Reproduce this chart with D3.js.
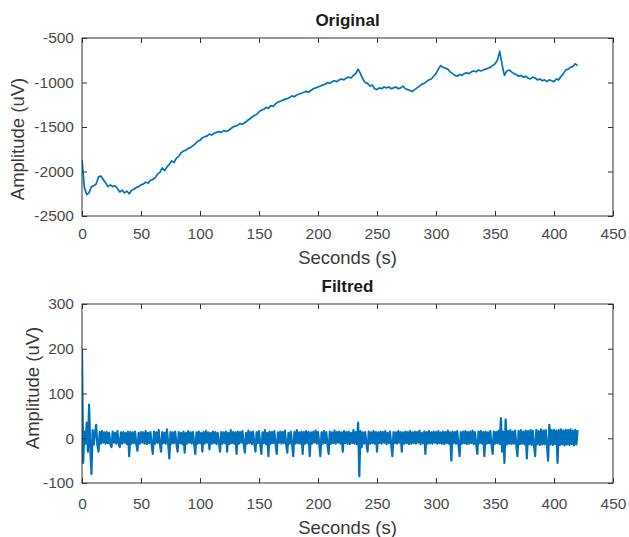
<!DOCTYPE html>
<html lang="en">
<head>
<meta charset="utf-8">
<title>Original / Filtred</title>
<script src="https://cdn.jsdelivr.net/npm/d3@7"></script>
<style>
  body, html { margin: 0; padding: 0; background: #fff; }
  .tick text { font-family: 'Liberation Sans', Arial, sans-serif; font-size: 15.5px; fill: #4a4a4a; }
  .label { font-family: 'Liberation Sans', Arial, sans-serif; font-size: 18.5px; fill: #3a3a3a; text-anchor: middle; }
  .title { font-family: 'Liberation Sans', Arial, sans-serif; font-size: 17px; font-weight: bold; fill: #1a1a1a; text-anchor: middle; }
</style>
</head>
<body>
<script>
// sample spacing of the hand-read series, seconds
var origStep = 2;
var filtStep = 1;

var xTicks = [0, 50, 100, 150, 200, 250, 300, 350, 400, 450];
var origTicks = [-500, -1000, -1500, -2000, -2500];
var filtTicks = [300, 200, 100, 0, -100];

// raw signal, one value every 2 s (0..420 s)
var original = [
  -1870, -2180, -2260, -2240, -2170, -2160, -2140, -2060, -2050, -2090,
  -2130, -2170, -2150, -2170, -2160, -2190, -2230, -2210, -2240, -2220,
  -2250, -2210, -2200, -2180, -2170, -2150, -2140, -2120, -2130, -2100,
  -2090, -2070, -2030, -2010, -1960, -1990, -1950, -1920, -1880, -1900,
  -1850, -1830, -1790, -1770, -1760, -1740, -1730, -1710, -1690, -1660,
  -1650, -1620, -1610, -1600, -1580, -1590, -1570, -1560, -1550, -1560,
  -1540, -1550, -1540, -1520, -1500, -1490, -1480, -1460, -1470, -1450,
  -1430, -1410, -1390, -1370, -1360, -1330, -1310, -1300, -1280, -1290,
  -1260, -1270, -1240, -1220, -1210, -1200, -1190, -1180, -1170, -1150,
  -1160, -1140, -1130, -1120, -1110, -1100, -1110, -1090, -1070, -1060,
  -1050, -1040, -1030, -1020, -1000, -1010, -990, -980, -990, -970,
  -960, -970, -950, -940, -950, -920, -900, -850, -900, -960,
  -1000, -1010, -1040, -1030, -1070, -1080, -1060, -1070, -1050, -1060,
  -1050, -1070, -1060, -1050, -1070, -1060, -1040, -1070, -1080, -1090,
  -1100, -1080, -1060, -1040, -1020, -1010, -990, -970, -960, -930,
  -900, -850, -810, -830, -840, -850, -880, -900, -920, -930,
  -910, -920, -900, -890, -900, -880, -870, -880, -860, -870,
  -860, -850, -840, -830, -810, -790, -750, -650, -800, -920,
  -870, -860, -880, -900, -910, -930, -920, -940, -930, -950,
  -960, -940, -950, -970, -960, -980, -970, -990, -970, -980,
  -990, -960, -970, -930, -900, -860, -850, -830, -820, -790,
  -810
];

// filtered signal, one value every 1 s (0..420 s)
var filtered = [
  200, -55, 15, -12, 35, -30, 75, -20, -80, 18, -14, 12, 30, -15, -30, 14, -12, 16, -10, 13,
  -12, 14, -11, 12, -13, -20, 15, -10, 12, -12, 16, -11, -20, 13, -12, 14, -10, 12, -13, 15,
  -40, 14, -12, 13, -11, 15, -13, -28, 12, -12, 14, -10, 13, -12, 16, -13, 12, -11, 14, -12,
  -35, 15, -12, 13, -10, 18, -13, -30, 14, -11, 12, -12, 20, -10, -45, 14, -12, 13, -11, 15,
  -12, -30, 14, -11, 12, -13, 15, -32, 12, -12, 16, -10, 13, -12, 14, -11, -35, 13, -12, 15,
  -11, 12, -30, 14, -12, 16, -10, 13, -25, 12, -12, 15, -11, 14, -13, 12, -10, -30, 14, -12,
  13, -11, 15, -30, 12, -13, 18, -11, 14, -12, 13, -35, 15, -12, 14, -10, 16, -13, -32, 12,
  -12, 17, -11, 14, -13, 15, -12, -30, 14, -11, 16, -12, -35, 13, -11, 18, -13, 12, -40, 15,
  -12, 14, -11, 16, -12, -35, 13, -10, 15, -12, 14, -11, 17, -13, -32, 12, -12, 15, -11, -40,
  14, -12, 18, -11, 13, -12, 15, -35, 14, -12, 16, -11, 14, -40, 13, -12, 15, -10, 17, -12,
  14, -11, -40, 13, -12, 16, -11, 14, -13, -35, 15, -12, 13, -11, 17, -12, 14, -10, 15, -12,
  13, -30, 16, -11, 14, -12, 15, -13, 12, -11, 18, -12, 14, -13, 35, -85, 16, -20, 13, -12,
  14, -11, -30, 15, -12, 13, -11, 16, -12, 14, -30, 13, -11, 15, -12, 14, -10, 16, -13, 12,
  -11, 15, -12, -40, 14, -11, 13, -12, 16, -10, 14, -30, 13, -12, 15, -11, 14, -13, 16, -12,
  13, -11, 15, -12, 14, -10, 17, -13, 12, -11, 15, -35, 14, -12, 16, -11, 13, -12, 15, -10,
  14, -12, 16, -11, 13, -12, 15, -13, 14, -11, 17, -12, 13, -50, 15, -11, 14, -12, 16, -13,
  -40, 14, -12, 15, -11, 16, -13, 14, -12, 15, -11, 17, -13, 14, -12, -35, 15, -11, 16, -12,
  14, -40, 15, -12, 13, -11, 16, -13, -35, 15, -12, 14, -11, 17, -13, 45, -30, 15, -55, 42,
  -14, 16, -12, 18, -13, 15, -12, 17, -14, -40, 16, -13, 18, -12, 15, -14, 17, -45, 16, -13,
  18, -15, 17, -14, -40, 19, -13, 16, -15, 20, -14, 17, -13, 18, -15, -50, 30, -14, 18, -15,
  19, -13, 17, -55, 18, -15, 20, -14, 17, -16, 19, -14, 18, -15, 20, -13, 17, -16, 19, -14, 18
];

var w = 629;
var h = 537;
var left = 82, right = 613;
var tickLen = 5;
var blue = "#0072BD";
var fmt = function(d) { return String(d); };

var svg = d3.select("body").append("svg")
  .attr("width", w)
  .attr("height", h);

var x = d3.scaleLinear().domain([0, 450]).range([left, right]);

function panel(opts) {
  var y = d3.scaleLinear().domain(opts.domain).range([opts.bottom, opts.top]);
  var g = svg.append("g");

  // clip so spikes stay in the box
  var clipId = "clip" + opts.top;
  svg.append("clipPath").attr("id", clipId)
    .append("rect")
    .attr("x", left).attr("y", opts.top)
    .attr("width", right - left).attr("height", opts.bottom - opts.top);

  var line = d3.line()
    .x(function(d, i) { return x(i * opts.step); })
    .y(function(d) { return y(d); });

  g.append("path")
    .datum(opts.values)
    .attr("clip-path", "url(#" + clipId + ")")
    .attr("fill", "none")
    .attr("stroke", blue)
    .attr("stroke-width", opts.lw)
    .attr("stroke-linejoin", "round")
    .attr("d", line);

  var axisColor = "#333";
  // bottom axis with labels, ticks pointing inward
  g.append("g")
    .attr("transform", "translate(0," + opts.bottom + ")")
    .call(d3.axisBottom(x).tickValues(xTicks).tickFormat(fmt).tickSizeInner(-tickLen).tickSizeOuter(0).tickPadding(opts.xPad));
  // top mirror
  g.append("g")
    .attr("transform", "translate(0," + opts.top + ")")
    .call(d3.axisTop(x).tickValues(xTicks).tickSizeInner(-tickLen).tickSizeOuter(0).tickFormat(""));
  // left
  g.append("g")
    .attr("transform", "translate(" + left + ",0)")
    .call(d3.axisLeft(y).tickValues(opts.ticks).tickFormat(fmt).tickSizeInner(-tickLen).tickSizeOuter(0).tickPadding(8));
  // right mirror
  g.append("g")
    .attr("transform", "translate(" + right + ",0)")
    .call(d3.axisRight(y).tickValues(opts.ticks).tickSizeInner(-tickLen).tickSizeOuter(0).tickFormat(""));

  g.selectAll(".domain").remove();
  g.selectAll(".tick line").attr("stroke", axisColor);

  g.append("rect")
    .attr("x", left).attr("y", opts.top)
    .attr("width", right - left).attr("height", opts.bottom - opts.top)
    .attr("fill", "none")
    .attr("stroke", axisColor)
    .attr("stroke-width", 1);

  g.append("text").attr("class", "title")
    .attr("x", (left + right) / 2).attr("y", opts.top - 12)
    .text(opts.title);

  g.append("text").attr("class", "label")
    .attr("x", (left + right) / 2).attr("y", opts.bottom + opts.xlabelDy)
    .text("Seconds (s)");

  g.append("text").attr("class", "label")
    .attr("transform", "translate(" + opts.ylabelX + "," + opts.ylabelY + ") rotate(-90)")
    .text("Amplitude (uV)");
}

panel({
  title: "Original", top: 38, bottom: 216, domain: [-2500, -500],
  ticks: origTicks, values: original, step: origStep, lw: 1.7,
  xPad: 12, xlabelDy: 48, ylabelX: 24, ylabelY: 139
});

panel({
  title: "Filtred", top: 304, bottom: 483, domain: [-100, 300],
  ticks: filtTicks, values: filtered, step: filtStep, lw: 2.2,
  xPad: 15, xlabelDy: 51, ylabelX: 39, ylabelY: 388
});
</script>
</body>
</html>
